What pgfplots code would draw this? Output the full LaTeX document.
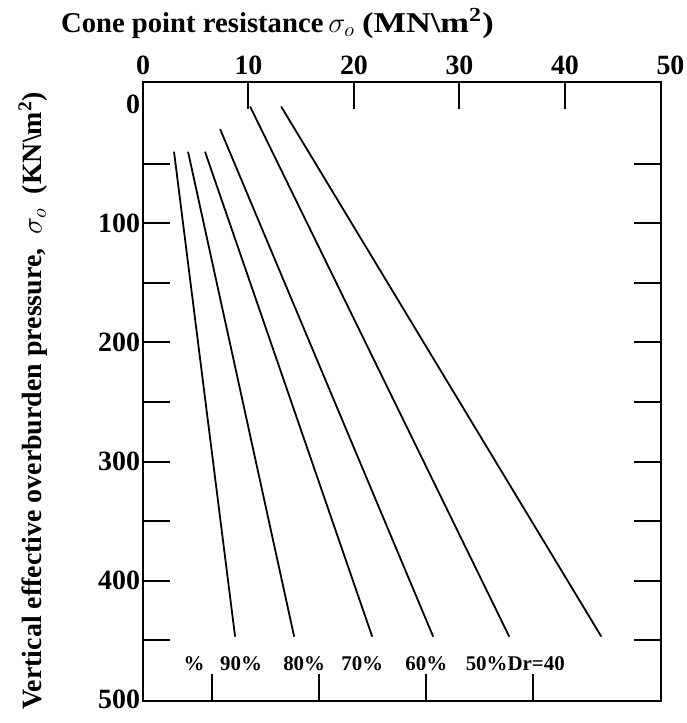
\documentclass[border=0pt]{standalone}
\usepackage{fontspec}
\setmainfont{Liberation Serif}
\usepackage{pgfplots}
\pgfplotsset{compat=1.18}
\tikzset{toplab/.style={font=\bfseries\fontsize{14}{16}\selectfont}}
\begin{document}
\begin{tikzpicture}
\pgfplotsset{
  common/.style={
    at={(0,0)}, anchor=south west, scale only axis,
    width=259bp, height=309.5bp,
    xmin=0, xmax=49.1, ymin=-18.5, ymax=501, y dir=reverse,
    tick style={black, line width=1bp},
    major tick length=13.5bp,
  },
}
\begin{axis}[common,
  axis line style={line width=0.8bp},
  xtick={0,10,20,30,40}, xtick pos=upper, xticklabel pos=upper,
  ytick={50,100,...,450}, yticklabels={},
  extra y ticks={0,100,200,300,400,500},
  extra y tick labels={0,100,200,300,400,500},
  extra y tick style={major tick length=0pt, yticklabel pos=left},
  /pgf/number format/assume math mode=true,
  tick label style={font=\bfseries\fontsize{14}{16}\selectfont},
  y tick label style={xshift=2bp},
  clip=false,
  title={Cone point resistance$\,\sigma_{o}$ \scalebox{1.2}[1]{(MN\textbackslash m\textsuperscript{2})}},
  title style={at={(axis description cs:-0.1718,1.0614)}, anchor=base west, font=\bfseries\fontsize{14.4}{16}\selectfont},
  ylabel={Vertical effective overburden pressure,\ \ $\sigma_{o}$\ \ (KN\textbackslash m\textsuperscript{2})},
  ylabel style={at={(axis description cs:-0.2124,0.485)}, anchor=center, font=\bfseries\fontsize{14}{16}\selectfont},
]
\addplot[black, line width=0.9bp] coordinates {(2.94,40) (8.73,447)};
\addplot[black, line width=0.9bp] coordinates {(4.27,40) (14.33,447)};
\addplot[black, line width=0.9bp] coordinates {(5.88,40) (21.73,447)};
\addplot[black, line width=0.9bp] coordinates {(7.31,21) (27.51,447)};
\addplot[black, line width=0.9bp] coordinates {(10.15,2) (34.72,447)};
\addplot[black, line width=0.9bp] coordinates {(13.09,2) (43.45,447)};
\node[toplab, anchor=south, inner sep=0.333em] at (axis cs:50,-18.5) {50};
\begin{scope}[every node/.style={font=\bfseries\fontsize{10.5}{12}\selectfont}]
\node at (axis cs:4.84,469.3) {\%};
\node at (axis cs:9.30,469.3) {90\%};
\node at (axis cs:15.28,469.3) {80\%};
\node at (axis cs:20.78,469.3) {70\%};
\node at (axis cs:26.85,469.3) {60\%};
\node at (axis cs:35.29,469.3) {50\%Dr=40};
\end{scope}
\end{axis}
\begin{axis}[common,
  axis line style={draw=none},
  xtick={6.55,16.7,26.85,37.0}, xtick pos=lower, xticklabels={},
  ytick=\empty,
]
\end{axis}
\pgfresetboundingbox
\path (-71.5bp,-11bp) rectangle (272bp,350.5bp);
\end{tikzpicture}
\end{document}
